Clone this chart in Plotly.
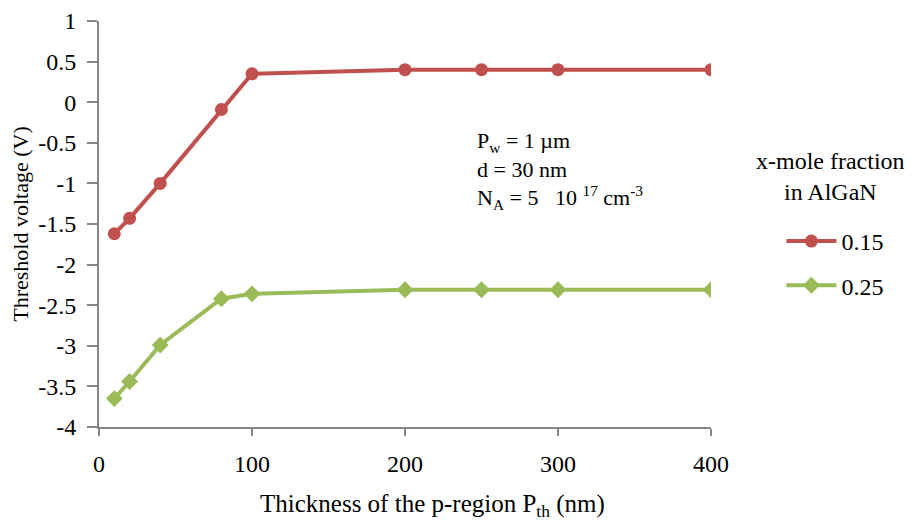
import plotly.graph_objects as go

thickness = [10, 20, 40, 80, 100, 200, 250, 300, 400]
vth_015 = [-1.62, -1.43, -1.0, -0.09, 0.35, 0.40, 0.40, 0.40, 0.40]
vth_025 = [-3.65, -3.44, -2.99, -2.42, -2.36, -2.31, -2.31, -2.31, -2.31]
series_names = ["0.15", "0.25"]
x_ticks = [0, 100, 200, 300, 400]
y_ticks = [1, 0.5, 0, -0.5, -1, -1.5, -2, -2.5, -3, -3.5, -4]
y_ticktext = ["1", "0.5", "0", "-0.5", "-1", "-1.5", "-2", "-2.5", "-3", "-3.5", "-4"]

FONT = "Liberation Serif"
RED = "#C0504D"
GREEN = "#9BBB59"
AXIS = "#868686"

T, B = 13, 104
PLOT_TOP, PLOT_BOTTOM = T, 523 - B  # figure coordinates
PH = PLOT_BOTTOM - PLOT_TOP


def py(fig_y):
    return (PLOT_BOTTOM - fig_y) / PH


fig = go.Figure()
fig.add_trace(go.Scatter(x=thickness, y=vth_015, name=series_names[0], mode="lines+markers",
                         legendgroup="a",
                         line=dict(color=RED, width=4),
                         marker=dict(symbol="circle", size=13, color=RED)))
fig.add_trace(go.Scatter(x=thickness, y=vth_025, name=series_names[1], mode="lines+markers",
                         legendgroup="b",
                         line=dict(color=GREEN, width=4),
                         marker=dict(symbol="diamond", size=13, color=GREEN)))

fig.update_layout(
    width=913, height=523,
    margin=dict(l=91, r=210, t=T, b=B, autoexpand=False),
    paper_bgcolor="white", plot_bgcolor="white",
    font=dict(family=FONT, size=24, color="black"),
    showlegend=True,
    legend=dict(x=1.115, y=py(211), xanchor="left", yanchor="top",
                font=dict(family=FONT, size=24), traceorder="grouped", tracegroupgap=10,
                itemwidth=50, bgcolor="rgba(0,0,0,0)"),
    xaxis=dict(range=[0, 400], tickvals=x_ticks, automargin=False,
               showgrid=False, zeroline=False, showline=True, linecolor=AXIS, linewidth=2,
               ticks="outside", tickcolor=AXIS, ticklen=7, tickwidth=2,
               ticklabelstandoff=7, tickfont=dict(size=24), ticklabeloverflow="allow"),
    yaxis=dict(range=[-4, 1], tickvals=y_ticks, ticktext=y_ticktext, automargin=False,
               showgrid=False, zeroline=False, showline=True, linecolor=AXIS, linewidth=2,
               ticks="outside", tickcolor=AXIS, ticklen=10, tickwidth=2,
               ticklabelstandoff=6, tickfont=dict(size=24), ticklabeloverflow="allow",
               title=dict(text="Threshold voltage (V)", standoff=6,
                          font=dict(family=FONT, size=22))),
)

# x-axis title (offset to the right as in the reference)
fig.add_annotation(
    x=(424 - 91) / 612, y=py(497), xref="paper", yref="paper",
    xanchor="center", yanchor="middle", showarrow=False,
    text="Thickness of the p-region P<sub>th</sub> (nm)",
    font=dict(family=FONT, size=25),
)

fig.add_annotation(
    x=0.614, y=py(118), xref="paper", yref="paper", xanchor="left", yanchor="top",
    align="left", showarrow=False,
    text="P<sub>w</sub> = 1 µm<br>d = 30 nm<br>N<sub>A</sub> = 5 &nbsp; 10 <sup>17</sup> cm<sup>-3</sup>",
    font=dict(family=FONT, size=22),
)

fig.add_annotation(
    x=(822 - 91) / 612, y=py(138), xref="paper", yref="paper", xanchor="center", yanchor="top",
    align="center", showarrow=False,
    text="x-mole fraction<br>in AlGaN",
    font=dict(family=FONT, size=24),
)

fig.write_html("out.html")
